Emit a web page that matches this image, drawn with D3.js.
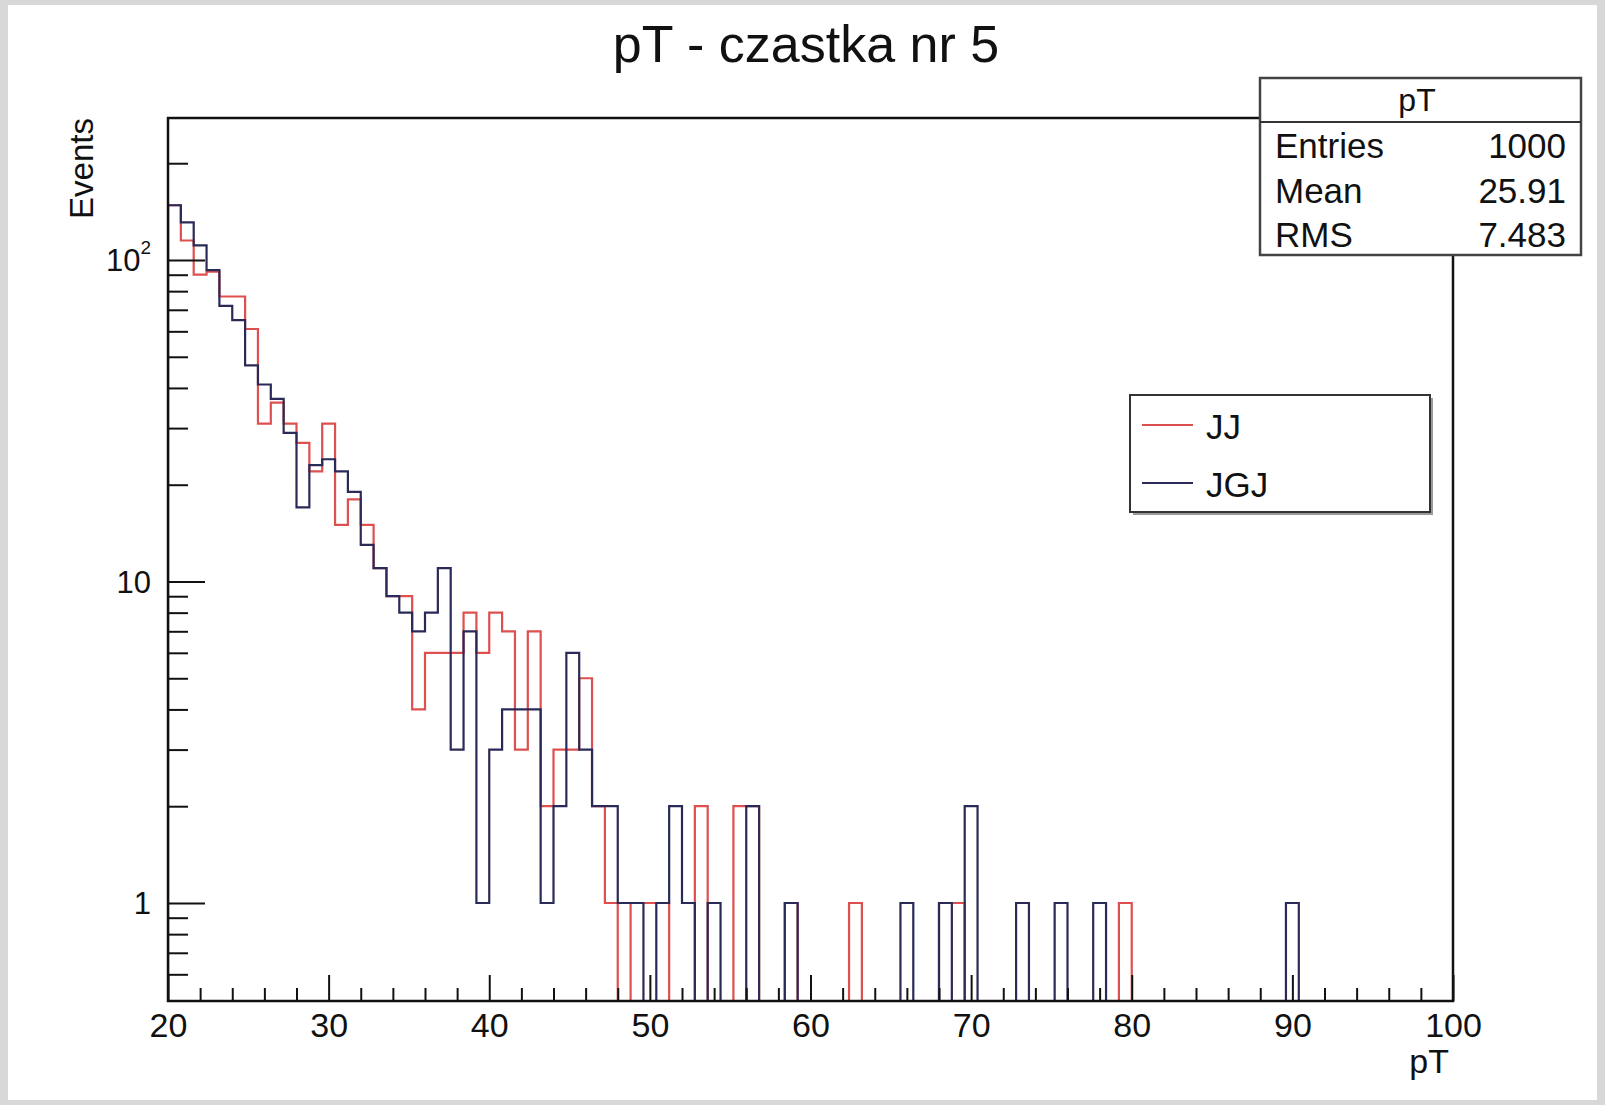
<!DOCTYPE html>
<html>
<head>
<meta charset="utf-8">
<script src="https://cdn.jsdelivr.net/npm/d3@7"></script>
<style>
body { margin: 0; background: #fff; }
text { font-family: "Liberation Sans", Arial, Helvetica, sans-serif; fill: #111; }
</style>
</head>
<body>
<div id="chart"></div>
<script>
// pT histogram, 100 bins from 20 to 100 (bin width 0.8)
const xMin = 20, xMax = 100, nBins = 100
const binWidth = (xMax - xMin) / nBins

// JJ (red)
const jj = [148,115,90,92,77,77,61,31,36,31,
            27,22,31,15,18,15,11,9,9,4,
            6,6,6,8,6,8,7,3,7,2,
            3,3,5,2,1,0,1,1,1,0,
            0,2,0,0,2,2,0,0,1,0,
            0,0,0,1,0,0,0,0,0,0,
            1,1,0,0,0,0,0,0,0,0,
            0,0,0,0,1,0,0,0,0,0,
            0,0,0,0,0,0,0,0,0,0,
            0,0,0,0,0,0,0,0,0,0]

// JGJ (dark blue)
const jgj = [148,131,111,93,72,65,47,41,37,29,
             17,23,24,22,19,13,11,9,8,7,
             8,11,3,7,1,3,4,4,4,1,
             2,6,3,2,2,1,1,0,1,2,
             1,0,1,0,0,2,0,0,1,0,
             0,0,0,0,0,0,0,1,0,0,
             1,0,2,0,0,0,1,0,0,1,
             0,0,1,0,0,0,0,0,0,0,
             0,0,0,0,0,0,0,1,0,0,
             0,0,0,0,0,0,0,0,0,0]

const xMajor = [20,30,40,50,60,70,80,90,100]
const xMinor = d3.range(22, 100, 2).filter(d => d % 10 != 0)
const yMajor = [1,10,100]
const yMinor = [0.6,0.7,0.8,0.9,2,3,4,5,6,7,8,9,20,30,40,50,60,70,80,90,200]
const yLabels = ["1","10","10|2"]

const statsTitle = "pT"
const statsNames = ["Entries","Mean","RMS"]
const statsValues = ["1000","25.91","7.483"]

const legendNames = ["JJ","JGJ"]
const legendColors = ["#de5050","#2a2a58"]

const width = 1605, height = 1105
const frame = {left: 168, right: 1453, top: 118, bottom: 1001}

let svg = d3.select("#chart").append("svg")
    .attr("width", width)
    .attr("height", height)

// canvas grey edge
svg.append("rect").attr("width", width).attr("height", height).attr("fill", "#d8d8d8")
svg.append("rect").attr("x", 8).attr("y", 5).attr("width", width - 16).attr("height", height - 10).attr("fill", "#fff")

let x = d3.scaleLinear().domain([xMin, xMax]).range([frame.left, frame.right])
let y = d3.scaleLog().domain([0.4956, 276.5]).range([frame.bottom, frame.top])

svg.append("clipPath").attr("id", "clip")
    .append("rect")
    .attr("x", frame.left).attr("y", frame.top)
    .attr("width", frame.right - frame.left).attr("height", frame.bottom - frame.top)

// histogram outline, empty bins drop below the frame
function histPoints(vals) {
    let below = frame.bottom + 30
    let pts = [[x(xMin), below]]
    vals.forEach((v, i) => {
        let yy = v > 0 ? y(v) : below
        pts.push([x(xMin + i * binWidth), yy])
        pts.push([x(xMin + (i + 1) * binWidth), yy])
    })
    pts.push([x(xMax), below])
    return pts
}

let line = d3.line()
let hist = svg.append("g").attr("clip-path", "url(#clip)")
;[jj, jgj].forEach((vals, k) => {
    hist.append("path")
        .datum(histPoints(vals))
        .attr("d", line)
        .attr("fill", "none")
        .attr("stroke", legendColors[k])
        .attr("stroke-width", 2.2)
})

// axes (ticks point into the frame)
let xAxis = svg.append("g").attr("transform", `translate(0,${frame.bottom})`)
    .call(d3.axisBottom(x).tickValues(xMajor).tickSize(-26).tickPadding(12).tickFormat(d3.format("d")))
xAxis.select(".domain").remove()
xAxis.selectAll("text").attr("font-size", 34).attr("font-family", null).style("fill", "#111")
xAxis.selectAll("line").attr("stroke", "#111").attr("stroke-width", 2)

let xAxisMinor = svg.append("g").attr("transform", `translate(0,${frame.bottom})`)
    .call(d3.axisBottom(x).tickValues(xMinor).tickSize(-13).tickFormat(""))
xAxisMinor.select(".domain").remove()
xAxisMinor.selectAll("line").attr("stroke", "#111").attr("stroke-width", 2)

let yAxis = svg.append("g").attr("transform", `translate(${frame.left},0)`)
    .call(d3.axisLeft(y).tickValues(yMajor).tickSize(-37).tickFormat(""))
yAxis.select(".domain").remove()
yAxis.selectAll("line").attr("stroke", "#111").attr("stroke-width", 2)

let yAxisMinor = svg.append("g").attr("transform", `translate(${frame.left},0)`)
    .call(d3.axisLeft(y).tickValues(yMinor).tickSize(-20).tickFormat(""))
yAxisMinor.select(".domain").remove()
yAxisMinor.selectAll("line").attr("stroke", "#111").attr("stroke-width", 2)

yMajor.forEach((v, i) => {
    let parts = yLabels[i].split("|")
    let t = svg.append("text")
        .attr("x", frame.left - 17)
        .attr("y", y(v))
        .attr("dy", "0.36em")
        .attr("text-anchor", "end")
        .attr("font-size", 31)
        .text(parts[0])
    if (parts[1]) {
        t.append("tspan").attr("font-size", 19).attr("dy", "-0.9em").text(parts[1])
    }
})

// frame
svg.append("rect")
    .attr("x", frame.left).attr("y", frame.top)
    .attr("width", frame.right - frame.left).attr("height", frame.bottom - frame.top)
    .attr("fill", "none").attr("stroke", "#111").attr("stroke-width", 2.5)

// titles
svg.append("text")
    .attr("x", 806).attr("y", 62)
    .attr("text-anchor", "middle")
    .attr("font-size", 52)
    .text("pT - czastka nr 5")

svg.append("text")
    .attr("x", frame.right - 4).attr("y", 1073)
    .attr("text-anchor", "end")
    .attr("font-size", 34)
    .text("pT")

svg.append("text")
    .attr("transform", `translate(93,${frame.top}) rotate(-90)`)
    .attr("text-anchor", "end")
    .attr("font-size", 33)
    .text("Events")

// stats box
let stats = svg.append("g")
stats.append("rect")
    .attr("x", 1260).attr("y", 78).attr("width", 321).attr("height", 177)
    .attr("fill", "#fff").attr("stroke", "#444").attr("stroke-width", 2.5)
stats.append("line")
    .attr("x1", 1260).attr("x2", 1581).attr("y1", 122).attr("y2", 122)
    .attr("stroke", "#333").attr("stroke-width", 2)
stats.append("text")
    .attr("x", 1417).attr("y", 111)
    .attr("text-anchor", "middle")
    .attr("font-size", 32)
    .text(statsTitle)
statsNames.forEach((name, i) => {
    let by = 158 + i * 44.5
    stats.append("text").attr("x", 1275).attr("y", by).attr("font-size", 35).text(name)
    stats.append("text").attr("x", 1566).attr("y", by).attr("text-anchor", "end").attr("font-size", 35).text(statsValues[i])
})

// legend
let legend = svg.append("g")
legend.append("rect")
    .attr("x", 1133).attr("y", 398).attr("width", 300).attr("height", 117)
    .attr("fill", "#9a9a9a")
legend.append("rect")
    .attr("x", 1130).attr("y", 395).attr("width", 300).attr("height", 117)
    .attr("fill", "#fff").attr("stroke", "#333").attr("stroke-width", 2)
legendNames.forEach((name, i) => {
    let ly = 425 + i * 58
    legend.append("line")
        .attr("x1", 1142).attr("x2", 1193).attr("y1", ly).attr("y2", ly)
        .attr("stroke", legendColors[i]).attr("stroke-width", 2)
    legend.append("text")
        .attr("x", 1206).attr("y", ly + 14)
        .attr("font-size", 35)
        .text(name)
})
</script>
</body>
</html>
